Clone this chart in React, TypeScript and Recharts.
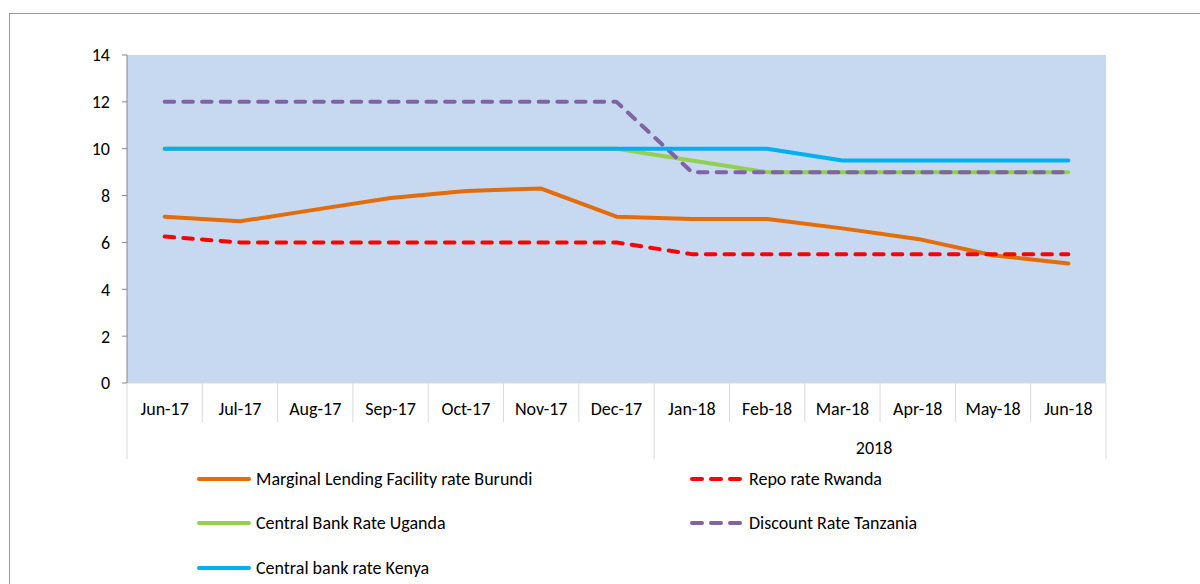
import React from 'react';
import { LineChart, Line, XAxis, YAxis, CartesianGrid } from 'recharts';

const months = ['Jun-17', 'Jul-17', 'Aug-17', 'Sep-17', 'Oct-17', 'Nov-17', 'Dec-17', 'Jan-18', 'Feb-18', 'Mar-18', 'Apr-18', 'May-18', 'Jun-18'];
const burundi = [7.1, 6.9, 7.4, 7.9, 8.2, 8.3, 7.1, 7.0, 7.0, 6.6, 6.15, 5.45, 5.1];
const rwanda = [6.25, 6, 6, 6, 6, 6, 6, 5.5, 5.5, 5.5, 5.5, 5.5, 5.5];
const uganda = [10, 10, 10, 10, 10, 10, 10, 9.5, 9, 9, 9, 9, 9];
const tanzania = [12, 12, 12, 12, 12, 12, 12, 9, 9, 9, 9, 9, 9];
const kenya = [10, 10, 10, 10, 10, 10, 10, 10, 10, 9.5, 9.5, 9.5, 9.5];
const yTicks = [0, 2, 4, 6, 8, 10, 12, 14];
const yearLabel = '2018';
const yearStartIndex = 7;

const data = months.map((m, i) => ({
  month: m,
  burundi: burundi[i],
  rwanda: rwanda[i],
  uganda: uganda[i],
  tanzania: tanzania[i],
  kenya: kenya[i],
}));

const FONT = "Carlito, Calibri, Lato, sans-serif";
const FS = 18;
const PLOT_LEFT = 127;
const PLOT_RIGHT = 1106;
const BW = (PLOT_RIGHT - PLOT_LEFT) / months.length;
const SEP = '#d9d9d9';
const DASH = '9.5 9.2';

const series = [
  { key: 'burundi', name: 'Marginal Lending Facility rate Burundi', color: '#E46C0A', dash: undefined },
  { key: 'rwanda', name: 'Repo rate Rwanda', color: '#FF0000', dash: DASH },
  { key: 'uganda', name: 'Central Bank Rate Uganda', color: '#92D050', dash: undefined },
  { key: 'tanzania', name: 'Discount Rate Tanzania', color: '#8064A2', dash: DASH },
  { key: 'kenya', name: 'Central bank rate Kenya', color: '#00B0F0', dash: undefined },
];

const XTick = (props: any) => {
  const { x, y, payload, index } = props;
  const top = y - 8;
  const left = x - BW / 2;
  const right = x + BW / 2;
  const last = index === months.length - 1;
  const longLeft = index === 0 || index === yearStartIndex;
  const yearCenter = (PLOT_LEFT + BW * yearStartIndex + PLOT_RIGHT) / 2;
  return (
    <g>
      <line x1={left} y1={top} x2={left} y2={longLeft ? top + 76 : top + 39} stroke={SEP} strokeWidth={1} />
      {last && <line x1={right} y1={top} x2={right} y2={top + 76} stroke={SEP} strokeWidth={1} />}
      <text x={x} y={top + 32} textAnchor="middle" fontSize={FS} fontFamily={FONT} fill="#000">
        {payload.value}
      </text>
      {index === yearStartIndex && (
        <text x={yearCenter - 6} y={top + 71} textAnchor="middle" fontSize={FS} fontFamily={FONT} fill="#000">
          {yearLabel}
        </text>
      )}
    </g>
  );
};

const legendPos = [
  { x: 197, y: 479 },
  { x: 690, y: 479 },
  { x: 197, y: 523 },
  { x: 690, y: 523 },
  { x: 197, y: 568 },
];

export default function App() {
  return (
    <div style={{ position: 'absolute', left: 0, top: 0, width: 1200, height: 584, overflow: 'hidden', background: '#fff' }}>
      <div style={{ position: 'absolute', left: 9, top: 13, width: 1250, height: 700, border: '1px solid #9a9a9a' }} />
      <div style={{ position: 'absolute', left: 0, top: 0 }}>
        <LineChart width={1200} height={584} data={data} margin={{ top: 55, right: 1200 - PLOT_RIGHT, left: 0, bottom: 124 }}>
          <CartesianGrid horizontal={false} vertical={false} fill="#C6D9F0" />
          <XAxis
            dataKey="month"
            interval={0}
            tickLine={false}
            axisLine={{ stroke: '#d9d9d9' }}
            tick={<XTick />}
            height={77}
            padding={{ left: BW / 2, right: BW / 2 }}
          />
          <YAxis
            width={PLOT_LEFT}
            domain={[0, 14]}
            ticks={yTicks}
            tickSize={5}
            tickMargin={12}
            axisLine={{ stroke: '#868686' }}
            tickLine={{ stroke: '#868686' }}
            tick={{ fontSize: FS, fill: '#000', fontFamily: FONT }}
          />
          {series.map((s) => (
            <Line
              key={s.key}
              type="linear"
              dataKey={s.key}
              name={s.name}
              stroke={s.color}
              strokeWidth={4}
              strokeDasharray={s.dash}
              strokeLinecap="round"
              strokeLinejoin="round"
              dot={false}
              activeDot={false}
              isAnimationActive={false}
            />
          ))}
        </LineChart>
      </div>
      {series.map((s, i) => (
        <div key={s.key} style={{ position: 'absolute', left: legendPos[i].x, top: legendPos[i].y - 12, height: 24, display: 'flex', alignItems: 'center' }}>
          <svg width={54} height={10} style={{ display: 'block' }}>
            <line x1={2} y1={5} x2={52} y2={5} stroke={s.color} strokeWidth={4} strokeLinecap="round" strokeDasharray={s.dash ? '10 9' : undefined} />
          </svg>
          <span style={{ marginLeft: 5, fontFamily: FONT, fontSize: FS, color: '#000', whiteSpace: 'nowrap' }}>{s.name}</span>
        </div>
      ))}
    </div>
  );
}
